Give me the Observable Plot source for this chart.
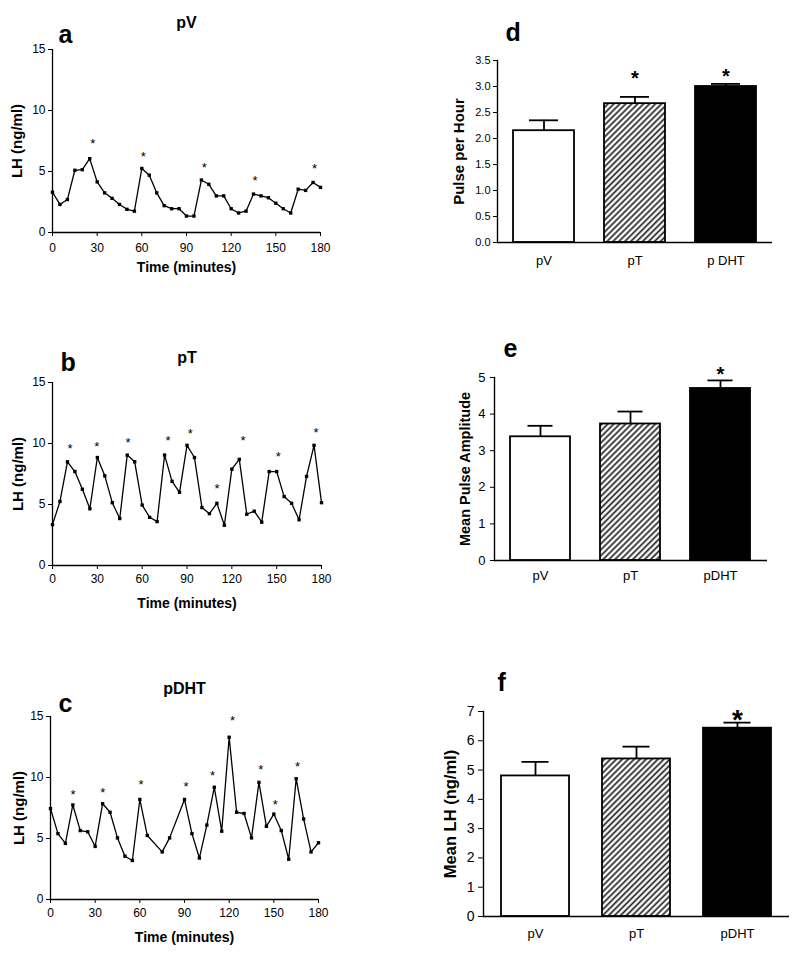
<!DOCTYPE html>
<html>
<head>
<meta charset="utf-8">
<script src="https://cdn.jsdelivr.net/npm/d3@7"></script>
<script src="https://cdn.jsdelivr.net/npm/@observablehq/plot@0.6"></script>
<style>
  html, body { margin: 0; padding: 0; background: #fff; }
  #root { position: relative; width: 800px; height: 956px; overflow: hidden; background: #fff; }
</style>
</head>
<body>
<div id="root"></div>
<script>
// ---------- data ----------
const times = [0,5,10,15,20,25,30,35,40,45,50,55,60,65,70,75,80,85,90,95,100,105,110,115,120,125,130,135,140,145,150,155,160,165,170,175,180];
const timesPDHT = [0,5,10,15,20,25,30,35,40,45,50,55,60,65,75,80,90,95,100,105,110,115,120,125,130,135,140,145,150,155,160,165,170,175,180];
const timeTicks = [0,30,60,90,120,150,180];
const lhTicks = [0,5,10,15];

const lhPV = [3.3,2.3,2.7,5.1,5.15,6.05,4.15,3.25,2.8,2.3,1.9,1.75,5.25,4.7,3.25,2.2,1.95,1.95,1.35,1.35,4.3,3.95,3.0,3.0,1.95,1.6,1.75,3.15,3.0,2.85,2.4,1.95,1.6,3.55,3.45,4.1,3.7];
const lhPT = [3.35,5.25,8.5,7.7,6.25,4.65,8.85,7.35,5.15,3.85,9.05,8.5,4.95,3.95,3.6,9.05,6.9,6.0,9.85,8.85,4.75,4.25,5.1,3.3,7.9,8.7,4.2,4.45,3.55,7.7,7.7,5.65,5.1,3.75,7.3,9.85,5.15];
const lhPDHT = [7.45,5.4,4.6,7.75,5.65,5.55,4.35,7.85,7.15,5.05,3.55,3.2,8.2,5.25,3.9,5.05,8.2,5.4,3.4,6.1,9.2,5.6,13.3,7.15,7.05,5.05,9.6,6.0,7.0,5.65,3.3,9.9,6.6,3.9,4.65];

// pulse markers (*): time and level
const starTimePV = [27,61,102,136,176];
const starLevelPV = [7.54,6.51,5.58,4.49,5.45];
const starTimePT = [11.8,29.7,50.5,77.3,92.2,110.1,127.5,151,176.4];
const starLevelPT = [9.87,10.01,10.36,10.5,11.1,6.55,10.5,9.19,11.18];
const starTimePDHT = [15.2,35.1,60.8,91,108.9,122.3,141.3,150.9,165.9];
const starLevelPDHT = [8.89,9.03,9.71,9.54,10.44,14.89,10.91,8.07,11.18];

const groups = ["pV","pT","pDHT"];
const groupLabelsD = ["pV","pT","p DHT"];
const groupLabels = ["pV","pT","pDHT"];

const pulsePerHour = [2.15,2.67,3.0];
const pulsePerHourSem = [0.2,0.13,0.05];
const pulseAmp = [3.38,3.73,4.7];
const pulseAmpSem = [0.3,0.34,0.22];
const meanLH = [4.8,5.38,6.43];
const meanLHSem = [0.48,0.42,0.19];

const ticksD = [0,0.5,1,1.5,2,2.5,3,3.5];
const ticksE = [0,1,2,3,4,5];
const ticksF = [0,1,2,3,4,5,6,7];

const starGroupsD = ["pT","pDHT"];
const starLevelsD = [3.25,3.29];
const starGroupsE = ["pDHT"];
const starLevelsE = [5.22];
const starGroupsF = ["pDHT"];
const starLevelsF = [6.96];

// ---------- drawing ----------
const FONT = '"Liberation Sans", Arial, Helvetica, sans-serif';
const root = document.getElementById("root");
function place(el, left, top) {
  el.style.position = "absolute";
  el.style.left = left + "px";
  el.style.top = top + "px";
  root.appendChild(el);
}

function seriesPanel(o) {
  const pts = o.t.map((t, i) => ({t, v: o.v[i]}));
  const stars = o.st.map((t, i) => ({t, v: o.sv[i]}));
  const svg = Plot.plot({
    width: o.w, height: o.h,
    marginLeft: o.ml, marginRight: o.mr, marginTop: o.mt, marginBottom: o.mb,
    style: {fontFamily: FONT, fontSize: "12px", color: "#000", background: "transparent", overflow: "visible"},
    x: {domain: [0, 180]},
    y: {domain: [0, 15]},
    marks: [
      Plot.axisX({ticks: timeTicks, tickSize: 4, tickPadding: o.xpad, label: null, fontSize: 12}),
      Plot.axisY({ticks: lhTicks, tickSize: 4, tickPadding: 3, label: null, fontSize: 12}),
      Plot.ruleY([0], {strokeWidth: 1.3}),
      Plot.ruleX([0], {strokeWidth: 1.3}),
      Plot.line(pts, {x: "t", y: "v", stroke: "#000", strokeWidth: 1.3}),
      Plot.dot(pts, {x: "t", y: "v", symbol: "square", r: 1.9, fill: "#000", stroke: "none"}),
      Plot.text(stars, {x: "t", y: "v", text: () => "*", fontSize: 13, dy: 3.3}),
      Plot.text([o.title], {frameAnchor: "top", textAnchor: "middle", lineAnchor: "middle", dy: o.titleDy, fontSize: 16, fontWeight: "bold"}),
      Plot.text([o.letter], {frameAnchor: "top-left", textAnchor: "start", lineAnchor: "middle", dx: o.letterDx, dy: o.letterDy, fontSize: 25, fontWeight: "bold"}),
      Plot.text(["Time (minutes)"], {frameAnchor: "bottom", textAnchor: "middle", lineAnchor: "middle", dy: o.xlabDy, fontSize: 14, fontWeight: "bold"}),
      Plot.text(["LH (ng/ml)"], {frameAnchor: "left", textAnchor: "middle", lineAnchor: "middle", rotate: -90, dx: o.ylabDx, fontSize: 15, fontWeight: "bold"})
    ]
  });
  place(svg, o.left, o.top);
}

function barPanel(o) {
  const rows = groups.map((g, i) => ({g, v: o.v[i], e: o.e[i]}));
  const starRows = o.starG.map((g, i) => ({g, v: o.starV[i]}));
  const pid = "hatch-" + o.letter;
  const svg = Plot.plot({
    width: o.w, height: o.h,
    marginLeft: o.ml, marginRight: o.mr, marginTop: o.mt, marginBottom: o.mb,
    style: {fontFamily: FONT, fontSize: "12px", color: "#000", background: "transparent", overflow: "visible"},
    x: {domain: groups, paddingInner: 0.33, paddingOuter: 0.17},
    y: {domain: o.yDomain},
    color: {domain: groups, range: ["#ffffff", `url(#${pid})`, "#000000"]},
    marks: [
      Plot.barY(rows, {x: "g", y: "v", fill: "g", stroke: "#000", strokeWidth: 1.8}),
      Plot.ruleX(rows, {x: "g", y1: "v", y2: d => d.v + d.e, stroke: "#000", strokeWidth: 1.8}),
      Plot.tickY(rows, {x: "g", y: d => d.v + d.e, insetLeft: o.cap, insetRight: o.cap, stroke: "#000", strokeWidth: 1.8}),
      Plot.ruleY([0], {strokeWidth: 1.4}),
      Plot.frame({anchor: "left", strokeWidth: 1.4}),
      Plot.axisY({ticks: o.ticks, tickFormat: o.fmt, tickSize: o.tickSize, tickPadding: o.tickPad, fontSize: o.tickFont, label: null}),
      Plot.axisX({tickSize: 0, tickPadding: o.xpad, tickFormat: d => o.cats[groups.indexOf(d)], fontSize: 13, label: null}),
      Plot.text(starRows, {x: "g", y: "v", text: () => "*", fontSize: o.starSize, fontWeight: "bold", dy: o.starSize * 0.25}),
      Plot.text([o.letter], {frameAnchor: "top-left", textAnchor: "start", lineAnchor: "middle", dx: o.letterDx, dy: o.letterDy, fontSize: 25, fontWeight: "bold"}),
      Plot.text([o.ylab], {frameAnchor: "left", textAnchor: "middle", lineAnchor: "middle", rotate: -90, dx: o.ylabDx, fontSize: o.ylabSize, fontWeight: "bold"})
    ]
  });
  const ns = "http://www.w3.org/2000/svg";
  const defs = document.createElementNS(ns, "defs");
  defs.innerHTML = `<pattern id="${pid}" patternUnits="userSpaceOnUse" width="4.2" height="4.2" patternTransform="rotate(45)"><rect width="4.2" height="4.2" fill="#ffffff"/><line x1="2.1" y1="-1" x2="2.1" y2="5.2" stroke="#222" stroke-width="1.7"/></pattern>`;
  svg.insertBefore(defs, svg.firstChild);
  place(svg, o.left, o.top);
}

seriesPanel({left: 0, top: 0, w: 340, h: 290, ml: 52, mr: 20, mt: 49, mb: 58,
  t: times, v: lhPV, st: starTimePV, sv: starLevelPV, title: "pV", letter: "a",
  titleDy: -27, letterDx: 6, letterDy: -15, xlabDy: 35, ylabDx: -35, xpad: 7});
seriesPanel({left: 0, top: 320, w: 340, h: 300, ml: 52, mr: 19, mt: 62, mb: 55,
  t: times, v: lhPT, st: starTimePT, sv: starLevelPT, title: "pT", letter: "b",
  titleDy: -25, letterDx: 8, letterDy: -20, xlabDy: 38, ylabDx: -34, xpad: 5});
seriesPanel({left: 0, top: 640, w: 340, h: 316, ml: 50, mr: 22, mt: 76, mb: 57,
  t: timesPDHT, v: lhPDHT, st: starTimePDHT, sv: starLevelPDHT, title: "pDHT", letter: "c",
  titleDy: -28, letterDx: 8, letterDy: -13, xlabDy: 38, ylabDx: -31, xpad: 5});

barPanel({left: 400, top: 0, w: 400, h: 290, ml: 97, mr: 28, mt: 60, mb: 48,
  v: pulsePerHour, e: pulsePerHourSem, yDomain: [0, 3.5], ticks: ticksD, fmt: d => d.toFixed(1),
  tickSize: 4, tickPad: 3, tickFont: 11, xpad: 13, cap: 16, cats: groupLabelsD,
  starG: starGroupsD, starV: starLevelsD, starSize: 20, letter: "d", letterDx: 8, letterDy: -28,
  ylab: "Pulse per Hour", ylabDx: -38, ylabSize: 15});
barPanel({left: 400, top: 320, w: 400, h: 280, ml: 94, mr: 33, mt: 57, mb: 40,
  v: pulseAmp, e: pulseAmpSem, yDomain: [0, 5], ticks: ticksE, fmt: d => String(d),
  tickSize: 4, tickPad: 5, tickFont: 13, xpad: 10, cap: 17.5, cats: groupLabels,
  starG: starGroupsE, starV: starLevelsE, starSize: 20, letter: "e", letterDx: 9, letterDy: -29,
  ylab: "Mean Pulse Amplitude", ylabDx: -29, ylabSize: 14.5});
barPanel({left: 400, top: 640, w: 400, h: 316, ml: 83, mr: 11, mt: 71, mb: 40,
  v: meanLH, e: meanLHSem, yDomain: [0, 7], ticks: ticksF, fmt: d => String(d),
  tickSize: 5, tickPad: 4, tickFont: 14, xpad: 12, cap: 20.5, cats: groupLabels,
  starG: starGroupsF, starV: starLevelsF, starSize: 28, letter: "f", letterDx: 14, letterDy: -29,
  ylab: "Mean LH (ng/ml)", ylabDx: -33, ylabSize: 16.5});
</script>
</body>
</html>
